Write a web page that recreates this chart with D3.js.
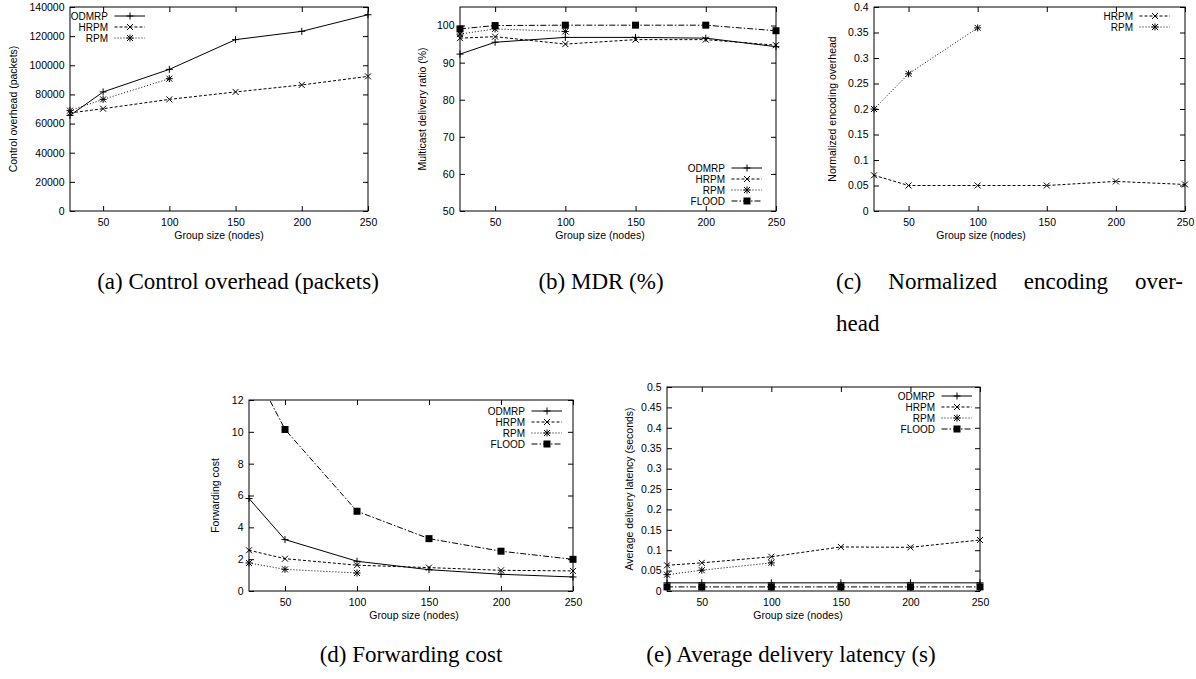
<!DOCTYPE html>
<html>
<head>
<meta charset="utf-8">
<script src="https://cdn.jsdelivr.net/npm/d3@7"></script>
<style>
  body { margin: 0; background: #fff; }
</style>
</head>
<body>
<svg id="fig" width="1196" height="679"></svg>
<script>
// x values (group size) and tick labels
var groupSizes = [25, 50, 100, 150, 200, 250];
var rpmSizes = [25, 50, 100];
var xTicks = [50, 100, 150, 200, 250];

// (a) control overhead (packets)
var overheadTicks = [0, 20000, 40000, 60000, 80000, 100000, 120000, 140000];
var overheadODMRP = [65600, 81700, 97200, 117600, 123300, 134700];
var overheadHRPM = [67300, 70200, 76600, 81700, 86500, 92400];
var overheadRPM = [68900, 76600, 90800];

// (b) multicast delivery ratio (%)
var mdrTicks = [50, 60, 70, 80, 90, 100];
var mdrODMRP = [92.3, 95.5, 96.8, 96.8, 96.6, 94.3];
var mdrHRPM = [96.6, 97.0, 95.0, 96.2, 96.2, 94.7];
var mdrRPM = [97.7, 99.1, 98.4];
var mdrFLOOD = [99.1, 100, 100.1, 100.1, 100.1, 98.6];

// (c) normalized encoding overhead
var encTicks = [0, 0.05, 0.1, 0.15, 0.2, 0.25, 0.3, 0.35, 0.4];
var encHRPM = [0.070, 0.050, 0.050, 0.050, 0.058, 0.052];
var encRPM = [0.200, 0.269, 0.359];

// (d) forwarding cost
var fwdTicks = [0, 2, 4, 6, 8, 10, 12];
var fwdODMRP = [5.81, 3.23, 1.87, 1.34, 1.05, 0.88];
var fwdHRPM = [2.56, 2.03, 1.62, 1.47, 1.30, 1.26];
var fwdRPM = [1.76, 1.36, 1.13];
var fwdFLOOD = [14.5, 10.15, 5.01, 3.29, 2.50, 1.99];

// (e) average delivery latency (seconds)
var latTicks = [0, 0.05, 0.1, 0.15, 0.2, 0.25, 0.3, 0.35, 0.4, 0.45, 0.5];
var latODMRP = [0.020, 0.020, 0.020, 0.020, 0.020, 0.020];
var latHRPM = [0.063, 0.069, 0.084, 0.108, 0.107, 0.125];
var latRPM = [0.040, 0.051, 0.069];
var latFLOOD = [0.010, 0.010, 0.010, 0.010, 0.010, 0.010];

var SANS = "Liberation Sans, Arial, sans-serif";
var SERIF = "Liberation Serif, Times New Roman, serif";

var styles = {
  ODMRP: { dash: null, marker: "plus" },
  HRPM: { dash: "3,2", marker: "cross" },
  RPM: { dash: "1,2", marker: "star" },
  FLOOD: { dash: "6,2,1.5,2", marker: "square" }
};

function series(name, xs, ys) {
  return { name: name, values: xs.map(function(x, i) { return { x: x, y: ys[i] }; }) };
}

var svg = d3.select("#fig");

function drawMarker(g, type, cx, cy) {
  var s = 3.5, c = 3;
  if (type == "square") {
    g.append("rect").attr("x", cx - 3.5).attr("y", cy - 3.5)
      .attr("width", 7).attr("height", 7).attr("fill", "#000");
    return;
  }
  var d = "";
  if (type == "plus" || type == "star")
    d += "M" + (cx - s) + "," + cy + "H" + (cx + s) + "M" + cx + "," + (cy - s) + "V" + (cy + s);
  if (type == "cross" || type == "star")
    d += "M" + (cx - c) + "," + (cy - c) + "L" + (cx + c) + "," + (cy + c) +
         "M" + (cx - c) + "," + (cy + c) + "L" + (cx + c) + "," + (cy - c);
  g.append("path").attr("d", d).attr("stroke", "#000").attr("stroke-width", 1).attr("fill", "none");
}

function drawPanel(p, idx) {
  var x = d3.scaleLinear().domain([25, 250]).range([p.left, p.right]);
  var y = d3.scaleLinear().domain(p.yDomain).range([p.bottom, p.top]);
  var g = svg.append("g");

  // ticks on all four sides, pointing inward
  g.append("g").attr("transform", "translate(" + p.left + ",0)")
    .call(d3.axisLeft(y).tickValues(p.yTicks).tickSize(-5).tickPadding(5.5).tickFormat(d3.format("~g")));
  g.append("g").attr("transform", "translate(0," + p.bottom + ")")
    .call(d3.axisBottom(x).tickValues(xTicks).tickSize(-5).tickPadding(8));
  g.append("g").attr("transform", "translate(" + p.right + ",0)")
    .call(d3.axisRight(y).tickValues(p.yTicks).tickSize(-5).tickFormat(""));
  g.append("g").attr("transform", "translate(0," + p.top + ")")
    .call(d3.axisTop(x).tickValues(xTicks).tickSize(-5).tickFormat(""));
  g.selectAll(".domain").remove();
  g.selectAll(".tick line").attr("stroke", "#000");
  g.selectAll(".tick text").attr("fill", "#000").attr("font-family", SANS).attr("font-size", "10.5px");

  g.append("rect")
    .attr("x", p.left).attr("y", p.top)
    .attr("width", p.right - p.left).attr("height", p.bottom - p.top)
    .attr("fill", "none").attr("stroke", "#000").attr("stroke-width", 1);

  // axis labels
  g.append("text")
    .attr("transform", "translate(" + p.yLabelX + "," + ((p.top + p.bottom) / 2) + ") rotate(-90)")
    .attr("text-anchor", "middle").attr("dy", "0.35em")
    .attr("font-family", SANS).attr("font-size", "10.5px")
    .text(p.yLabel);
  g.append("text")
    .attr("x", p.xLabelX).attr("y", p.bottom + 27.5)
    .attr("text-anchor", "middle")
    .attr("font-family", SANS).attr("font-size", "10.5px")
    .text("Group size (nodes)");

  // clip lines to the plot box
  svg.append("clipPath").attr("id", "clip" + idx)
    .append("rect").attr("x", p.left).attr("y", p.top)
    .attr("width", p.right - p.left).attr("height", p.bottom - p.top);

  var line = d3.line().x(function(d) { return x(d.x); }).y(function(d) { return y(d.y); });
  var plot = g.append("g").attr("clip-path", "url(#clip" + idx + ")");
  var marks = g.append("g");
  p.series.forEach(function(s) {
    var st = styles[s.name];
    plot.append("path")
      .datum(s.values)
      .attr("d", line)
      .attr("fill", "none")
      .attr("stroke", "#000")
      .attr("stroke-width", 1)
      .attr("stroke-dasharray", st.dash);
    s.values.forEach(function(d) {
      if (d.y <= p.yDomain[1]) drawMarker(marks, st.marker, x(d.x), y(d.y));
    });
  });

  // legend
  p.series.forEach(function(s, i) {
    var st = styles[s.name];
    var ly = p.legend.y + i * 11;
    g.append("text")
      .attr("x", p.legend.x).attr("y", ly).attr("dy", "0.35em")
      .attr("text-anchor", "end")
      .attr("font-family", SANS).attr("font-size", "10px")
      .text(s.name);
    g.append("line")
      .attr("x1", p.legend.x + 6.5).attr("x2", p.legend.x + 37)
      .attr("y1", ly).attr("y2", ly)
      .attr("stroke", "#000").attr("stroke-width", 1)
      .attr("stroke-dasharray", st.dash);
    drawMarker(g, st.marker, p.legend.x + 22, ly);
  });
}

var panels = [
  { left: 70, right: 368, top: 7, bottom: 211, yDomain: [0, 140000], yTicks: overheadTicks,
    yLabel: "Control overhead (packets)", yLabelX: 13, xLabelX: 219, legend: { x: 108, y: 16 },
    series: [series("ODMRP", groupSizes, overheadODMRP), series("HRPM", groupSizes, overheadHRPM),
             series("RPM", rpmSizes, overheadRPM)] },
  { left: 460, right: 776, top: 7, bottom: 211, yDomain: [50, 105], yTicks: mdrTicks,
    yLabel: "Multicast delivery ratio (%)", yLabelX: 422, xLabelX: 600, legend: { x: 725, y: 168 },
    series: [series("ODMRP", groupSizes, mdrODMRP), series("HRPM", groupSizes, mdrHRPM),
             series("RPM", rpmSizes, mdrRPM), series("FLOOD", groupSizes, mdrFLOOD)] },
  { left: 874, right: 1185, top: 7, bottom: 211, yDomain: [0, 0.4], yTicks: encTicks,
    yLabel: "Normalized encoding overhead", yLabelX: 832, xLabelX: 981, legend: { x: 1133, y: 16 },
    series: [series("HRPM", groupSizes, encHRPM), series("RPM", rpmSizes, encRPM)] },
  { left: 249, right: 573, top: 400, bottom: 591, yDomain: [0, 12], yTicks: fwdTicks,
    yLabel: "Forwarding cost", yLabelX: 215, xLabelX: 414, legend: { x: 525, y: 411 },
    series: [series("ODMRP", groupSizes, fwdODMRP), series("HRPM", groupSizes, fwdHRPM),
             series("RPM", rpmSizes, fwdRPM), series("FLOOD", groupSizes, fwdFLOOD)] },
  { left: 667, right: 980, top: 387, bottom: 591, yDomain: [0, 0.5], yTicks: latTicks,
    yLabel: "Average delivery latency (seconds)", yLabelX: 629, xLabelX: 798, legend: { x: 935, y: 396 },
    series: [series("ODMRP", groupSizes, latODMRP), series("HRPM", groupSizes, latHRPM),
             series("RPM", rpmSizes, latRPM), series("FLOOD", groupSizes, latFLOOD)] }
];

panels.forEach(drawPanel);

// captions
var CAP_SIZE = "23px";
function caption(txt, cx, by) {
  svg.append("text")
    .attr("x", cx).attr("y", by).attr("text-anchor", "middle")
    .attr("font-family", SERIF).attr("font-size", CAP_SIZE)
    .text(txt);
}
caption("(a) Control overhead (packets)", 238, 289);
caption("(b) MDR (%)", 601, 289);
caption("(d) Forwarding cost", 411, 662);
caption("(e) Average delivery latency (s)", 791, 662);

// justified caption (c)
var words = ["(c)", "Normalized", "encoding", "over-"];
var x0 = 836, x1 = 1183;
var nodes = words.map(function(w) {
  return svg.append("text").attr("y", 289)
    .attr("font-family", SERIF).attr("font-size", CAP_SIZE).text(w);
});
var widths = nodes.map(function(n) { return n.node().getComputedTextLength(); });
var gap = (x1 - x0 - d3.sum(widths)) / (words.length - 1);
var cx = x0;
nodes.forEach(function(n, i) { n.attr("x", cx); cx += widths[i] + gap; });
svg.append("text").attr("x", x0).attr("y", 331)
  .attr("font-family", SERIF).attr("font-size", CAP_SIZE).text("head");
</script>
</body>
</html>
